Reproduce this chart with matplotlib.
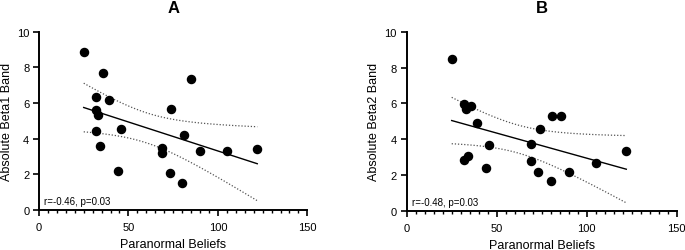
import numpy as np
import matplotlib.pyplot as plt

plt.rcParams['font.family'] = ['Liberation Sans', 'DejaVu Sans']

# Paranormal beliefs scores and absolute band power
x_a = [25, 36, 85, 32, 39, 32, 33, 74, 32, 46, 81, 34, 69, 69, 90, 105, 122, 44, 73, 80]
y_a = [8.86, 7.66, 7.32, 6.31, 6.16, 5.62, 5.34, 5.67, 4.42, 4.51, 4.21, 3.58, 3.46, 3.16, 3.30, 3.30, 3.41, 2.19, 2.06, 1.48]

x_b = [25, 32, 33, 36, 39, 86, 81, 74, 69, 46, 32, 34, 44, 69, 73, 80, 90, 105, 122]
y_b = [8.45, 5.96, 5.70, 5.83, 4.88, 5.27, 5.27, 4.54, 3.71, 3.69, 2.81, 3.04, 2.36, 2.77, 2.16, 1.64, 2.16, 2.64, 3.35]

titles = ['A', 'B']
ylabels = ['Absolute Beta1 Band', 'Absolute Beta2 Band']
stats = ['r=-0.46, p=0.03', 'r=-0.48, p=0.03']
t_crit = {18: 2.101, 17: 2.110}


def panel(ax, x, y, title, ylab, txt):
    x = np.array(x, float)
    y = np.array(y, float)
    n = len(x)
    b, a = np.polyfit(x, y, 1)
    xs = np.linspace(x.min(), x.max(), 100)
    fit = a + b * xs
    res = y - (a + b * x)
    s = np.sqrt(np.sum(res ** 2) / (n - 2))
    se = s * np.sqrt(1 / n + (xs - x.mean()) ** 2 / np.sum((x - x.mean()) ** 2))
    t = t_crit[n - 2]
    ax.plot(xs, fit, color='black', lw=1.0)
    ax.plot(xs, fit + t * se, color='#555555', lw=0.9, ls=(0, (1, 1.5)))
    ax.plot(xs, fit - t * se, color='#555555', lw=0.9, ls=(0, (1, 1.5)))
    ax.scatter(x, y, s=34, color='black', zorder=3, clip_on=False)

    ax.set_xlim(0, 150)
    ax.set_ylim(0, 10)
    ax.set_xticks([0, 50, 100, 150])
    ax.set_xticks(np.arange(0, 151, 5), minor=True)
    ax.set_yticks([0, 2, 4, 6, 8, 10])
    for sp in ['top', 'right']:
        ax.spines[sp].set_visible(False)
    for sp in ['left', 'bottom']:
        ax.spines[sp].set_linewidth(1.4)
    ax.tick_params(which='major', length=4, width=1.2, labelsize=8, pad=3)
    ax.tick_params(axis='x', which='major', pad=5)
    ax.tick_params(axis='x', which='minor', length=2.5, width=1.0)
    ax.set_xlabel('Paranormal Beliefs', fontsize=9, labelpad=4)
    ax.set_ylabel(ylab, fontsize=9, labelpad=3)
    ax.set_title(title, fontsize=12, fontweight='bold', pad=14)
    ax.text(3, 0.3, txt, fontsize=7)


fig = plt.figure(figsize=(6.85, 2.51), dpi=100)
ax1 = fig.add_axes([0.0569, 0.1606, 0.3918, 0.709])
ax2 = fig.add_axes([0.5937, 0.1566, 0.3942, 0.713])

panel(ax1, x_a, y_a, titles[0], ylabels[0], stats[0])
panel(ax2, x_b, y_b, titles[1], ylabels[1], stats[1])

fig.savefig('out.png', dpi=100)
